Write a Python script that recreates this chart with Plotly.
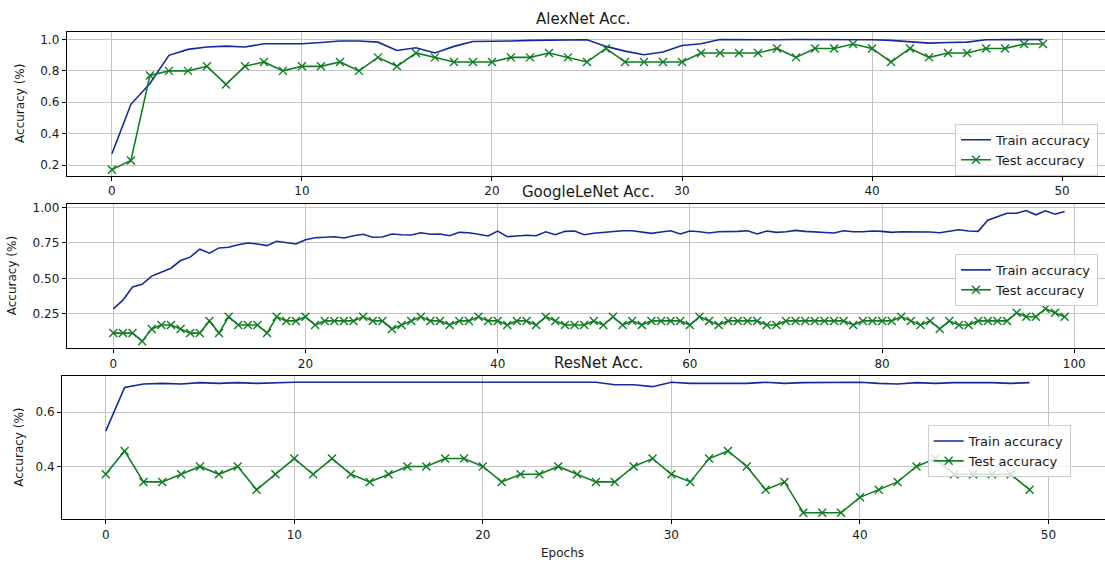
import plotly.graph_objects as go

# ---------------- data ----------------
alex_epochs = list(range(50))
alex_train = [0.272, 0.587, 0.72, 0.899, 0.937, 0.952, 0.958, 0.952, 0.973, 0.973,
              0.973, 0.981, 0.99, 0.99, 0.983, 0.93, 0.947, 0.914, 0.956, 0.987,
              0.987, 0.99, 0.994, 0.996, 0.998, 0.998, 0.956, 0.926, 0.903, 0.92,
              0.962, 0.973, 1.0, 0.998, 1.0, 0.998, 1.0, 1.0, 1.0, 0.998,
              0.998, 0.994, 0.985, 0.977, 0.981, 0.983, 0.998, 1.0, 1.0, 1.0]
alex_test = [0.171, 0.229, 0.771, 0.8, 0.8, 0.829, 0.714, 0.829, 0.857, 0.8,
             0.829, 0.829, 0.857, 0.8, 0.886, 0.829, 0.914, 0.886, 0.857, 0.857,
             0.857, 0.886, 0.886, 0.914, 0.886, 0.857, 0.943, 0.857, 0.857, 0.857,
             0.857, 0.914, 0.914, 0.914, 0.914, 0.943, 0.886, 0.943, 0.943, 0.971,
             0.943, 0.857, 0.943, 0.886, 0.914, 0.914, 0.943, 0.943, 0.971, 0.971]

goog_epochs = list(range(100))
goog_train = [0.285, 0.346, 0.439, 0.458, 0.516, 0.544, 0.572, 0.626, 0.65, 0.706,
              0.678, 0.715, 0.72, 0.738, 0.75, 0.743, 0.731, 0.762, 0.755, 0.743,
              0.773, 0.787, 0.79, 0.794, 0.785, 0.801, 0.811, 0.79, 0.792, 0.813,
              0.808, 0.806, 0.822, 0.811, 0.813, 0.801, 0.825, 0.822, 0.811, 0.799,
              0.834, 0.794, 0.799, 0.804, 0.801, 0.829, 0.808, 0.832, 0.834, 0.808,
              0.818, 0.825, 0.832, 0.836, 0.836, 0.827, 0.818, 0.827, 0.836, 0.813,
              0.834, 0.829, 0.82, 0.829, 0.829, 0.832, 0.836, 0.813, 0.834, 0.825,
              0.829, 0.839, 0.832, 0.829, 0.822, 0.82, 0.836, 0.829, 0.829, 0.834,
              0.832, 0.825, 0.829, 0.829, 0.829, 0.827, 0.822, 0.834, 0.843, 0.834,
              0.832, 0.911, 0.935, 0.96, 0.96, 0.979, 0.949, 0.977, 0.953, 0.972]
goog_test = [0.114, 0.114, 0.114, 0.057, 0.143, 0.171, 0.171, 0.143, 0.114, 0.114,
             0.2, 0.114, 0.229, 0.171, 0.171, 0.171, 0.114, 0.229, 0.2, 0.2,
             0.229, 0.171, 0.2, 0.2, 0.2, 0.2, 0.229, 0.2, 0.2, 0.143,
             0.171, 0.2, 0.229, 0.2, 0.2, 0.171, 0.2, 0.2, 0.229, 0.2,
             0.2, 0.171, 0.2, 0.2, 0.171, 0.229, 0.2, 0.171, 0.171, 0.171,
             0.2, 0.171, 0.229, 0.171, 0.2, 0.171, 0.2, 0.2, 0.2, 0.2,
             0.171, 0.229, 0.2, 0.171, 0.2, 0.2, 0.2, 0.2, 0.171, 0.171,
             0.2, 0.2, 0.2, 0.2, 0.2, 0.2, 0.2, 0.171, 0.2, 0.2,
             0.2, 0.2, 0.229, 0.2, 0.171, 0.2, 0.143, 0.2, 0.171, 0.171,
             0.2, 0.2, 0.2, 0.2, 0.257, 0.229, 0.229, 0.286, 0.257, 0.229]

res_epochs = list(range(50))
res_train = [0.53, 0.691, 0.704, 0.706, 0.704, 0.709, 0.706, 0.709, 0.706, 0.709,
             0.71, 0.71, 0.71, 0.71, 0.71, 0.71, 0.71, 0.71, 0.71, 0.71,
             0.71, 0.71, 0.71, 0.71, 0.71, 0.71, 0.71, 0.701, 0.701, 0.694,
             0.71, 0.706, 0.706, 0.704, 0.706, 0.71, 0.706, 0.709, 0.71, 0.71,
             0.71, 0.706, 0.704, 0.709, 0.706, 0.709, 0.709, 0.709, 0.706, 0.709]
res_test = [0.371, 0.457, 0.343, 0.343, 0.371, 0.4, 0.371, 0.4, 0.314, 0.371,
            0.429, 0.371, 0.429, 0.371, 0.343, 0.371, 0.4, 0.4, 0.429, 0.429,
            0.4, 0.343, 0.371, 0.371, 0.4, 0.371, 0.343, 0.343, 0.4, 0.429,
            0.371, 0.343, 0.429, 0.457, 0.4, 0.314, 0.343, 0.229, 0.229, 0.229,
            0.286, 0.314, 0.343, 0.4, 0.429, 0.371, 0.371, 0.371, 0.371, 0.314]

titles = ["AlexNet Acc.", "GoogleLeNet Acc.", "ResNet Acc."]
train_name = "Train accuracy"
test_name = "Test accuracy"

# ---------------- style ----------------
W, H = 1105, 565
BLUE = "#14299a"
GREEN = "#0f7d22"
GRID = "#c4c4c4"
FONT = "DejaVu Sans"
TXT = "#1a1a1a"

def xdom(left, right):
    return [left / W, min(right / W, 1.0)]

def ydom(top, bottom):
    return [1 - bottom / H, 1 - top / H]

panels = [
    dict(x=alex_epochs, tr=alex_train, te=alex_test, xr=[-2.38, 52.26], yr=[0.132, 1.047],
         xd=xdom(66.7, 1105), yd=ydom(28.3, 173), dt=10, ydt=0.2, yfmt=".1f", lg="legend",
         lgx=955, lgy=120.7, title_xy=(583, 15), ylab_x=20),
    dict(x=goog_epochs, tr=goog_train, te=goog_test, xr=[-4.85, 103.2], yr=[0.007, 1.023],
         xd=xdom(66.7, 1105), yd=ydom(201.7, 346.7), dt=20, ydt=0.25, yfmt=".2f", lg="legend2",
         lgx=955, lgy=251.7, title_xy=(588, 189), ylab_x=12),
    dict(x=res_epochs, tr=res_train, te=res_test, xr=[-2.32, 53.0], yr=[0.205, 0.732],
         xd=xdom(62, 1105), yd=ydom(375, 519), dt=10, ydt=0.2, yfmt=".1f", lg="legend3",
         lgx=927.7, lgy=424, title_xy=(598, 362), ylab_x=19),
]

fig = go.Figure()
layout = dict(
    width=W, height=H,
    margin=dict(l=0, r=0, t=0, b=0),
    paper_bgcolor="white", plot_bgcolor="white",
    font=dict(family=FONT, size=12, color=TXT),
    showlegend=True,
)
annotations = []

for i, p in enumerate(panels, start=1):
    xa = "x" if i == 1 else f"x{i}"
    ya = "y" if i == 1 else f"y{i}"
    fig.add_trace(go.Scatter(x=p["x"], y=p["tr"], mode="lines", name=train_name,
                             line=dict(color=BLUE, width=1.6), xaxis=xa, yaxis=ya,
                             legend=p["lg"]))
    fig.add_trace(go.Scatter(x=p["x"], y=p["te"], mode="lines+markers", name=test_name,
                             line=dict(color=GREEN, width=1.6),
                             marker=dict(symbol="x-thin", size=8,
                                         line=dict(color=GREEN, width=1.4)),
                             xaxis=xa, yaxis=ya, legend=p["lg"]))
    axis_common = dict(showline=True, linecolor="black", linewidth=1,
                       ticks="outside", ticklen=4, tickcolor="black", tickwidth=1,
                       showgrid=True, gridcolor=GRID, gridwidth=1, zeroline=False,
                       tickfont=dict(family=FONT, size=12, color=TXT))
    layout["xaxis" if i == 1 else f"xaxis{i}"] = dict(
        axis_common, domain=p["xd"], range=p["xr"], dtick=p["dt"], tick0=0,
        mirror=True, anchor=ya)
    layout["yaxis" if i == 1 else f"yaxis{i}"] = dict(
        axis_common, domain=p["yd"], range=p["yr"], dtick=p["ydt"], tick0=0,
        tickformat=p["yfmt"], mirror=False, anchor=xa)
    layout[p["lg"]] = dict(x=p["lgx"] / W, y=1 - p["lgy"] / H, xanchor="left", yanchor="top",
                           bgcolor="rgba(255,255,255,0.8)", bordercolor="#cccccc",
                           borderwidth=1, font=dict(family=FONT, size=13, color=TXT),
                           tracegroupgap=0, itemwidth=30)
    tx, ty = p["title_xy"]
    annotations.append(dict(text=titles[i - 1], x=tx / W, y=1 - ty / H, xref="paper",
                            yref="paper", showarrow=False, xanchor="center", yanchor="middle",
                            font=dict(family=FONT, size=15, color=TXT)))
    ymid = (p["yd"][0] + p["yd"][1]) / 2
    annotations.append(dict(text="Accuracy (%)", x=p["ylab_x"] / W, y=ymid, xref="paper",
                            yref="paper", showarrow=False, textangle=-90,
                            xanchor="center", yanchor="middle",
                            font=dict(family=FONT, size=12, color=TXT)))

annotations.append(dict(text="Epochs", x=562 / W, y=1 - 553 / H, xref="paper", yref="paper",
                        showarrow=False, xanchor="center", yanchor="middle",
                        font=dict(family=FONT, size=12, color=TXT)))
layout["annotations"] = annotations
fig.update_layout(**layout)
fig.write_html("out.html",
               config={"displayModeBar": False},
               post_script="document.body.style.margin='0';document.body.style.overflow='hidden';")
